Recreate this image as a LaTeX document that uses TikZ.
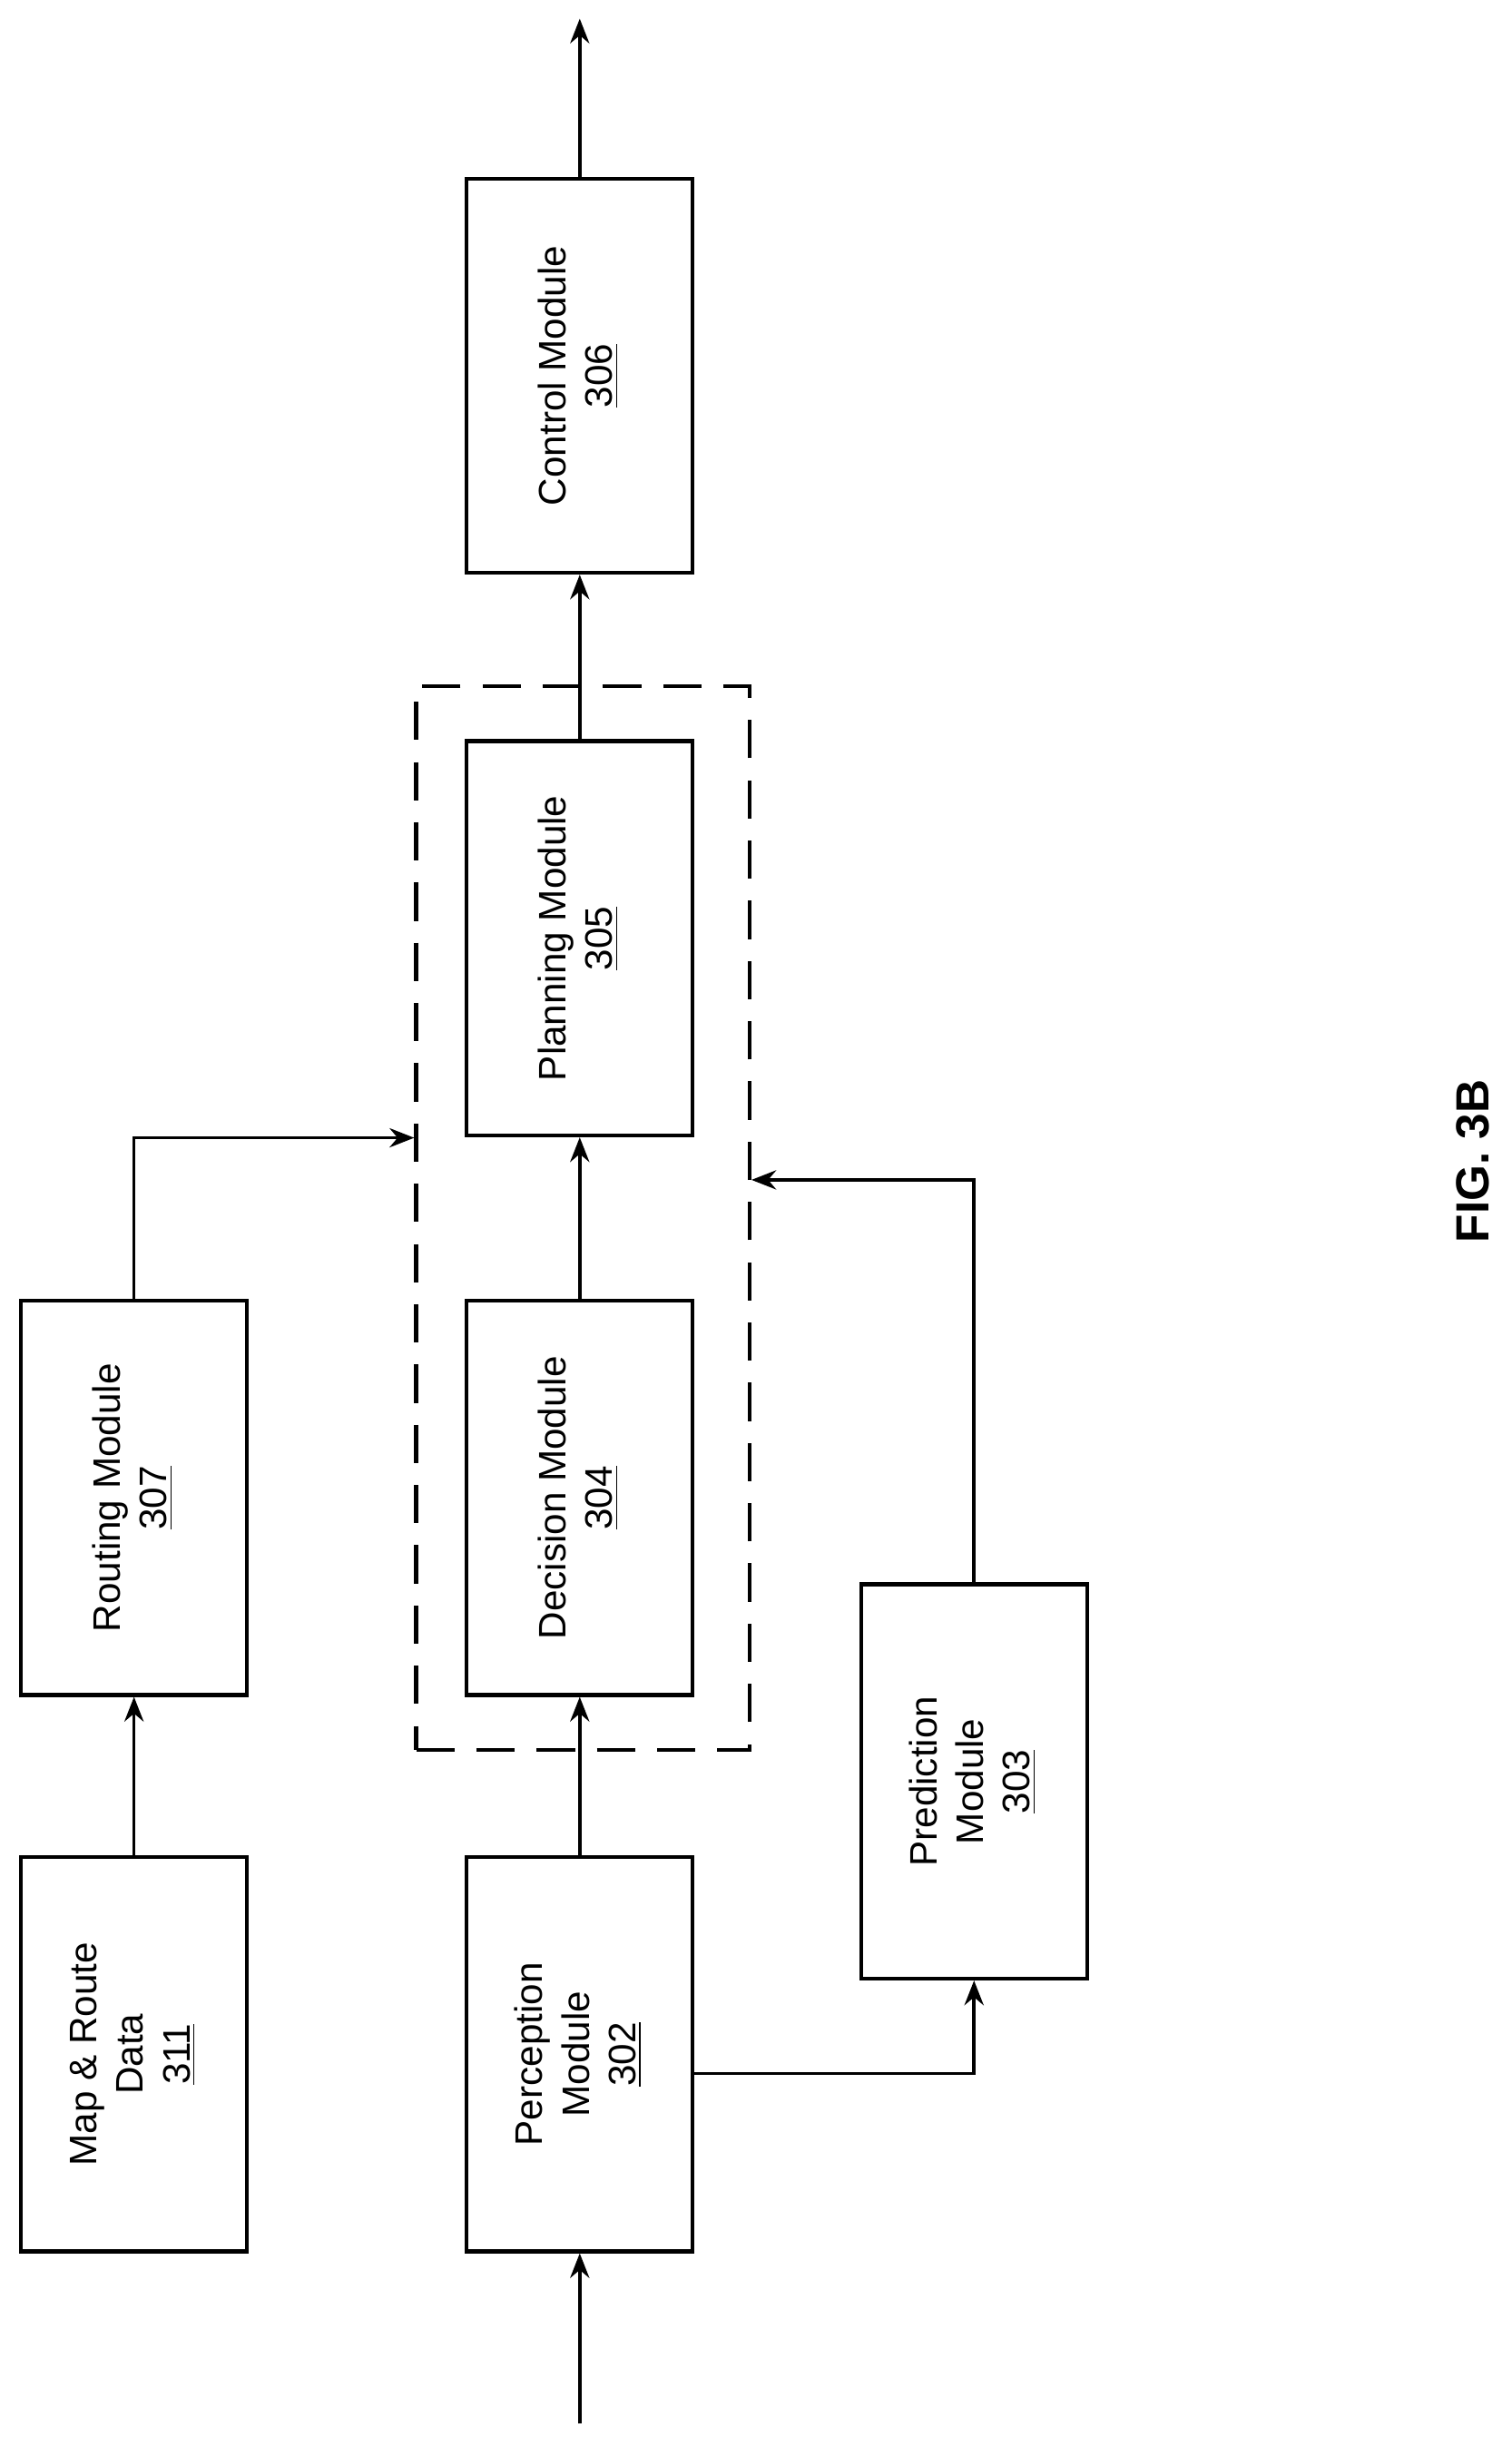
\documentclass[tikz,border=0pt]{standalone}
\usepackage{fontspec}
\setmainfont{Liberation Sans}
\usetikzlibrary{arrows.meta, positioning}

\tikzset{
  module/.style={draw, line width=1.4pt, minimum width=2.9cm, minimum height=5.06cm, inner sep=0pt},
  flow/.style={line width=1.2pt, -{Stealth[length=9pt, width=7pt]}}
}
\newcommand{\modtext}[1]{\rotatebox{90}{\fontsize{14}{17}\selectfont\begin{tabular}{c}#1\end{tabular}}}

\begin{document}
\begin{tikzpicture}[x=0.02cm, y=-0.02cm]
          \useasboundingbox (0,0) rectangle (970,1570);

          \node [module] (map) at (86,1318) {\modtext{Map \& Route\\ Data\\ \underline{311}}}; % map data
          \node [module] (route) at (86,961) {\modtext{Routing Module\\ \underline{307}}};

          \node [module] (percept) at (372,1318) {\modtext{Perception\\ Module\\ \underline{302}}};
          \node [module] (decide) at (372,961) {\modtext{Decision Module\\ \underline{304}}};
          \node [module] (plan) at (372,602) {\modtext{Planning Module\\ \underline{305}}};
          \node [module] (control) at (372,241) {\modtext{Control Module\\ \underline{306}}};

          \node [module] (predict) at (625,1143) {\modtext{Prediction\\ Module\\ \underline{303}}};

          \node [draw, dashed, dash pattern=on 14pt off 8pt, line width=1.4pt, minimum width=4.28cm, minimum height=13.66cm] (dash) at (374,781.5) {};

          \node [rotate=90, font=\bfseries\fontsize{17}{20}\selectfont] (fig) at (945,745) {FIG. 3B};

          \coordinate (in) at (372,1555);
          \coordinate (out) at (372,12);
          \coordinate (routey) at (0,730);
          \coordinate (predy) at (0,757);

          \draw [flow] (in) -- (percept.south);
          \draw [flow] (percept.north) -- (decide.south);
          \draw [flow] (decide.north) -- (plan.south);
          \draw [flow] (plan.north) -- (control.south);
          \draw [flow] (control.north) -- (out);

          \draw [flow] (map.north) -- (route.south);
          \draw [flow] (route.north) |- (dash.west |- routey);

          \draw [flow] ([yshift=-7pt]percept.east) -| (predict.south);
          \draw [flow] (predict.north) |- (dash.east |- predy);
\end{tikzpicture}
\end{document}
